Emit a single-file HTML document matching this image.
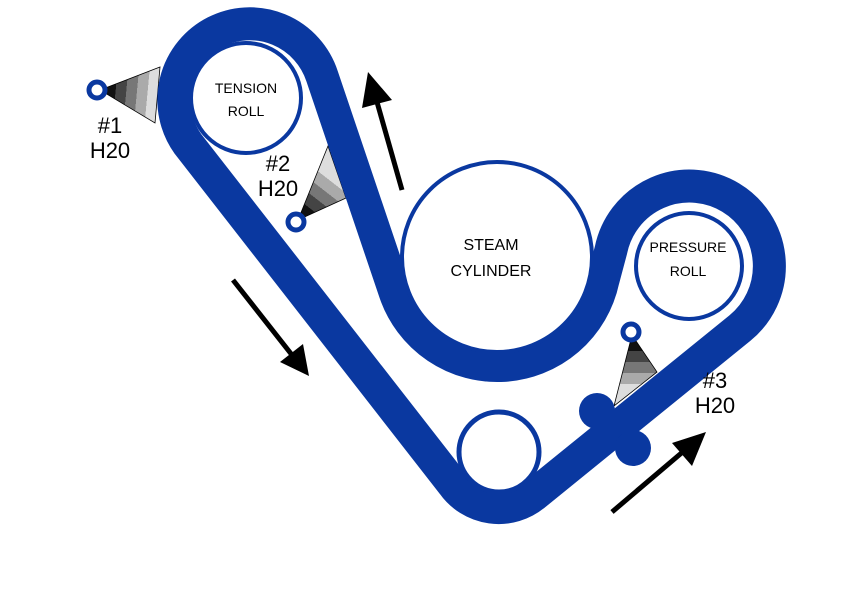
<!DOCTYPE html>
<html><head><style>html,body{margin:0;padding:0;background:#fff}svg{display:block}</style></head>
<body>
<svg width="853" height="590" viewBox="0 0 853 590" xmlns="http://www.w3.org/2000/svg" font-family="Liberation Sans, sans-serif">
<defs>
<linearGradient id="g1" x1="105" y1="90" x2="158" y2="95" gradientUnits="userSpaceOnUse">
<stop offset="0" stop-color="#111"/><stop offset="0.2" stop-color="#111"/><stop offset="0.2" stop-color="#444"/><stop offset="0.4" stop-color="#444"/><stop offset="0.4" stop-color="#777"/><stop offset="0.6" stop-color="#777"/><stop offset="0.6" stop-color="#aaa"/><stop offset="0.8" stop-color="#aaa"/><stop offset="0.8" stop-color="#ddd"/><stop offset="1" stop-color="#ddd"/></linearGradient>
<linearGradient id="g2" x1="300" y1="215" x2="335" y2="170" gradientUnits="userSpaceOnUse">
<stop offset="0" stop-color="#111"/><stop offset="0.2" stop-color="#111"/><stop offset="0.2" stop-color="#444"/><stop offset="0.4" stop-color="#444"/><stop offset="0.4" stop-color="#777"/><stop offset="0.6" stop-color="#777"/><stop offset="0.6" stop-color="#aaa"/><stop offset="0.8" stop-color="#aaa"/><stop offset="0.8" stop-color="#ddd"/><stop offset="1" stop-color="#ddd"/></linearGradient>
<linearGradient id="g3" x1="632" y1="340" x2="632" y2="395" gradientUnits="userSpaceOnUse">
<stop offset="0" stop-color="#111"/><stop offset="0.2" stop-color="#111"/><stop offset="0.2" stop-color="#444"/><stop offset="0.4" stop-color="#444"/><stop offset="0.4" stop-color="#777"/><stop offset="0.6" stop-color="#777"/><stop offset="0.6" stop-color="#aaa"/><stop offset="0.8" stop-color="#aaa"/><stop offset="0.8" stop-color="#ddd"/><stop offset="1" stop-color="#ddd"/></linearGradient>
</defs>
<polygon points="100,90 160,67 155,123" fill="url(#g1)" stroke="#000" stroke-width="0.8"/>
<polygon points="298,220 328,146 346,198" fill="url(#g2)" stroke="#000" stroke-width="0.8"/>
<polygon points="632,335 614,406 657,372" fill="url(#g3)" stroke="#000" stroke-width="0.8"/>
<circle cx="246" cy="98" r="55" fill="#fff" stroke="#0a38a0" stroke-width="4"/>
<path d="M188,144 A76,76 0 1 1 322,76 L395,292 A108,108 0 0 0 603,280 L611,250 A80,80 0 1 1 740,328 L534,495 A56,56 0 0 1 453,484 Z" fill="none" stroke="#0a38a0" stroke-width="33" stroke-linejoin="round"/>
<circle cx="497" cy="257" r="95" fill="#fff" stroke="#0a38a0" stroke-width="4"/>
<circle cx="689" cy="266" r="53" fill="#fff" stroke="#0a38a0" stroke-width="4"/>
<circle cx="499" cy="452" r="40" fill="#fff" stroke="#0a38a0" stroke-width="5"/>
<circle cx="597" cy="411" r="18" fill="#0a38a0"/>
<circle cx="633" cy="448" r="18" fill="#0a38a0"/>
<circle cx="97" cy="90" r="8" fill="#fff" stroke="#0a38a0" stroke-width="5"/>
<circle cx="296" cy="222" r="8" fill="#fff" stroke="#0a38a0" stroke-width="5"/>
<circle cx="631" cy="332" r="8" fill="#fff" stroke="#0a38a0" stroke-width="5"/>
<g stroke="#000" stroke-width="5" fill="#000">
<line x1="402" y1="190" x2="375" y2="95"/>
<line x1="233" y1="280" x2="292" y2="355"/>
<line x1="612" y1="512" x2="685" y2="450"/>
</g>
<polygon points="368,72 362,108 392,100" fill="#000"/>
<polygon points="309,376 280,362 303,344" fill="#000"/>
<polygon points="706,432 672,443 692,466" fill="#000"/>
<g fill="#000" text-anchor="middle">
<text x="246" y="93" font-size="14">TENSION</text>
<text x="246" y="116" font-size="14">ROLL</text>
<text x="491" y="250" font-size="16">STEAM</text>
<text x="491" y="276" font-size="16">CYLINDER</text>
<text x="688" y="252" font-size="14">PRESSURE</text>
<text x="688" y="276" font-size="14">ROLL</text>
<text x="110" y="133" font-size="22">#1</text>
<text x="110" y="158" font-size="22">H20</text>
<text x="278" y="171" font-size="22">#2</text>
<text x="278" y="196" font-size="22">H20</text>
<text x="715" y="388" font-size="22">#3</text>
<text x="715" y="413" font-size="22">H20</text>
</g>
</svg>
</body></html>
